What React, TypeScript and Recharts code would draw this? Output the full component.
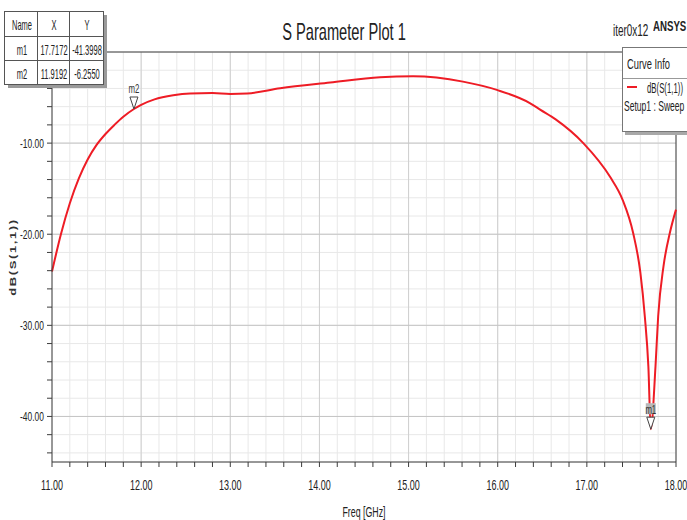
import React from 'react'
import {
  LineChart, Line, XAxis, YAxis, CartesianGrid, ReferenceLine, ReferenceDot, Label,
} from 'recharts'

// S11 sweep
const FREQ = [
  11.0, 11.1, 11.2, 11.3, 11.4, 11.5, 11.6, 11.7, 11.8, 11.9192, 12.0, 12.15,
  12.36, 12.55, 12.8, 13.0, 13.19, 13.56, 14.12, 14.68, 15.05, 15.61, 15.99, 16.36,
  16.48, 16.65, 16.96, 17.26, 17.4, 17.52, 17.6, 17.65, 17.69, 17.7172, 17.77, 17.8,
  17.86, 17.93, 18.0,
]
const S11 = [
  -24.1, -20.0, -16.6, -13.9, -11.8, -10.2, -9.0, -8.0, -7.1, -6.255, -5.8, -5.2,
  -4.75, -4.55, -4.5, -4.6, -4.55, -3.98, -3.36, -2.78, -2.67, -3.25, -4.16, -5.6,
  -6.35, -7.4, -10.0, -13.7, -16.2, -19.9, -24.2, -29.0, -34.5, -41.3998, -34.5, -29.0,
  -23.5, -19.9, -17.3,
]

const MAJOR_X = [11, 12, 13, 14, 15, 16, 17, 18]
const MAJOR_Y = [-40, -30, -20, -10]
const X_TICKS = Array.from({ length: 36 }, (_, i) => Math.round((11 + i * 0.2) * 10) / 10)
const Y_TICKS = Array.from({ length: 23 }, (_, i) => -44 + i * 2)

const MARKER_NAMES = ['m1', 'm2']
const MARKER_X = [17.7172, 11.9192]
const MARKER_Y = [-41.3998, -6.255]
const MARKER_X_TXT = ['17.7172', '11.9192']
const MARKER_Y_TXT = ['-41.3998', '-6.2550']

const data = FREQ.map((f, i) => ({ f, s: S11[i] }))

const FONT = "'Liberation Sans', Arial, sans-serif"
const AXIS = '#3c3c3c'
const RED = '#ee1c25'
const INK = '#222'

const isMajor = (v: number) => Math.abs(v - Math.round(v)) < 1e-6

// condensed text in svg (the screenshot is squeezed sideways)
const XTick = (p: any) => {
  const v = p.payload.value
  if (!isMajor(v)) return <g />
  return (
    <g transform={`translate(${p.x},${p.y})`}>
      <text transform="scale(0.6,1)" textAnchor="middle" dy="0.36em" fontSize={15} fill={INK} fontFamily={FONT}>{v.toFixed(2)}</text>
    </g>
  )
}
const YTick = (p: any) => {
  const v = p.payload.value
  if (v === 0 || v % 10 !== 0) return <g />
  return (
    <g transform={`translate(${p.x},${p.y})`}>
      <text transform="scale(0.65,1)" textAnchor="end" dy="0.36em" fontSize={13} fill={INK} fontFamily={FONT}>{v.toFixed(2)}</text>
    </g>
  )
}

const markerShape = (name: string, shaded: boolean) => (p: any) => {
  const { cx, cy } = p
  return (
    <g>
      {shaded && <rect x={cx - 5} y={cy - 26} width={10} height={11} fill="#b8b8b8" />}
      <path d={`M${cx - 4},${cy - 12} L${cx + 4},${cy - 12} L${cx},${cy} Z`} fill="#fff" stroke="#444" strokeWidth={1} />
      <g transform={`translate(${cx},${cy - 20})`}>
        <text transform="scale(0.65,1)" textAnchor="middle" dy="0.36em" fontSize={12} fontFamily={FONT} fill="#333">{name}</text>
      </g>
    </g>
  )
}

// condensed text in html, positioned by its vertical centre
function NT({ x, cy, size, anchor = 'start', scale = 0.6, bold = false, children }: any) {
  const tx = anchor === 'middle' ? 'translateX(-50%) ' : anchor === 'end' ? 'translateX(-100%) ' : ''
  const origin = anchor === 'middle' ? 'center' : anchor === 'end' ? 'right' : 'left'
  return (
    <div style={{
      position: 'absolute', left: x, top: cy - size / 2, fontSize: size, lineHeight: 1, whiteSpace: 'nowrap',
      transform: tx + `scaleX(${scale})`, transformOrigin: origin, fontWeight: bold ? 'bold' : 'normal', color: INK,
    }}>{children}</div>
  )
}

const COL_X = [4, 37, 69, 103]
const ROW_Y = [11, 36, 60, 84]

export default function App() {
  const rows = [['Name', 'X', 'Y'], ...MARKER_NAMES.map((n, i) => [n, MARKER_X_TXT[i], MARKER_Y_TXT[i]])]
  return (
    <div style={{ position: 'absolute', left: 0, top: 0, width: 687, height: 520, background: '#fff', fontFamily: FONT, overflow: 'hidden' }}>
      <LineChart width={687} height={520} data={data} margin={{ top: 52, right: 11, bottom: 0, left: 0 }}>
        <CartesianGrid stroke="#e8e8e8" strokeWidth={1} />
        {MAJOR_X.slice(1, -1).map(v => <ReferenceLine key={'x' + v} x={v} stroke="#cfcfcf" />)}
        {MAJOR_Y.map(v => <ReferenceLine key={'y' + v} y={v} stroke="#c4c4c4" />)}
        <ReferenceLine y={0} stroke={AXIS} />
        <ReferenceLine x={18} stroke={AXIS} />
        <XAxis
          dataKey="f" type="number" domain={[11, 18]} ticks={X_TICKS} interval={0}
          height={58} tickSize={5} tickMargin={18}
          stroke={AXIS} tick={XTick}
        >
          <Label
            content={(p: any) => {
              const vb = p.viewBox
              return (
                <g transform={`translate(${vb.x + vb.width / 2},${vb.y + 50})`}>
                  <text transform="scale(0.63,1)" textAnchor="middle" dy="0.36em" fontSize={14} fill={INK} fontFamily={FONT}>Freq [GHz]</text>
                </g>
              )
            }}
          />
        </XAxis>
        <YAxis
          type="number" domain={[-45, 0]} ticks={Y_TICKS} interval={0} allowDataOverflow
          width={52} tickSize={5} tickMargin={3}
          stroke={AXIS} tick={YTick}
        >
          <Label
            content={(p: any) => {
              const vb = p.viewBox
              const x = vb.x + 13
              const y = vb.y + vb.height / 2
              return (
                <g transform={`translate(${x},${y}) rotate(-90) scale(1,0.7)`}>
                  <text textAnchor="middle" dy="0.36em" fontSize={13} fontWeight="bold" letterSpacing={1.6} fill="#333" fontFamily={FONT}>
                    dB(S(1,1))
                  </text>
                </g>
              )
            }}
          />
        </YAxis>
        <Line type="monotone" dataKey="s" stroke={RED} strokeWidth={2} dot={false} isAnimationActive={false} />
        {MARKER_NAMES.map((n, i) => (
          <ReferenceDot key={n} x={MARKER_X[i]} y={MARKER_Y[i]} shape={markerShape(n, i === 0)} />
        ))}
      </LineChart>

      {/* title and header texts */}
      <NT x={344} cy={32} size={24} scale={0.61} anchor="middle">S Parameter Plot 1</NT>
      <NT x={613} cy={31} size={16} scale={0.62}>iter0x12</NT>
      <NT x={653} cy={26} size={14} scale={0.69} bold>ANSYS</NT>

      {/* marker table */}
      <div style={{ position: 'absolute', left: COL_X[0] + 4, top: ROW_Y[0] + 4, width: COL_X[3] - COL_X[0], height: ROW_Y[3] - ROW_Y[0], background: '#9a9a9a' }} />
      {rows.map((r, ri) => r.map((t, ci) => (
        <div key={ri + '-' + ci} style={{
          position: 'absolute', left: COL_X[ci], top: ROW_Y[ri], width: COL_X[ci + 1] - COL_X[ci] + 1, height: ROW_Y[ri + 1] - ROW_Y[ri] + 1,
          boxSizing: 'border-box', border: '1px solid #555', background: '#fff',
        }}>
          <NT x={(COL_X[ci + 1] - COL_X[ci]) / 2} cy={(ROW_Y[ri + 1] - ROW_Y[ri]) / 2} size={15} scale={0.5} anchor="middle">{t}</NT>
        </div>
      )))}

      {/* curve info box */}
      <div style={{ position: 'absolute', left: 625, top: 50, width: 70, height: 85, background: '#a8a8a8' }} />
      <div style={{ position: 'absolute', left: 622, top: 47, width: 70, height: 85, boxSizing: 'border-box', background: '#fff', border: '1px solid #777' }}>
        <div style={{ position: 'absolute', left: 0, top: 30, width: 70, borderTop: '1px solid #999' }} />
        <NT x={4} cy={15} size={15} scale={0.62}>Curve Info</NT>
        <div style={{ position: 'absolute', left: 4, top: 38, width: 10, height: 2, background: RED }} />
        <NT x={60} cy={39} size={15} scale={0.52} anchor="end">dB(S(1,1))</NT>
        <NT x={1} cy={57} size={15} scale={0.57}>Setup1 : Sweep</NT>
      </div>
    </div>
  )
}
